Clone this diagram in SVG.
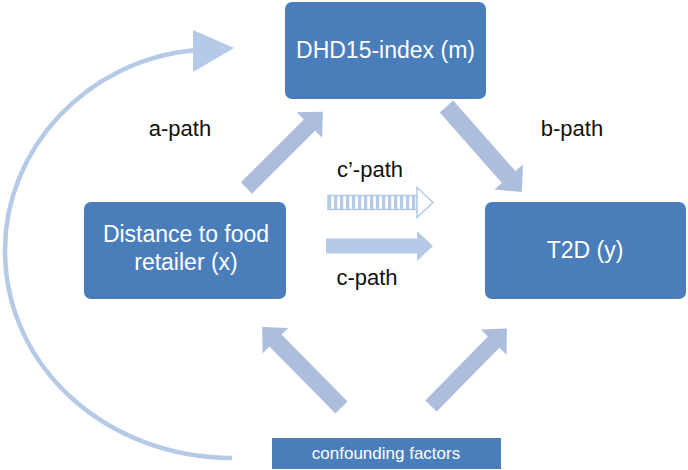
<svg xmlns="http://www.w3.org/2000/svg" width="688" height="470" viewBox="0 0 688 470">
  <defs>
    <style>
      .box { fill: #4a7ebb; }
      .boxtxt { font-family: "Liberation Sans", Arial, sans-serif; font-size: 23px; fill: #ffffff; text-anchor: middle; }
      .lbl { font-family: "Liberation Sans", Arial, sans-serif; font-size: 22px; fill: #111111; text-anchor: middle; }
      .blk { fill: #adbedc; }
      .lite { fill: #b5cae6; }
    </style>
    <pattern id="stripes" patternUnits="userSpaceOnUse" x="328" y="0" width="6" height="10">
      <rect x="0" y="0" width="6" height="10" fill="#ffffff"/>
      <rect x="0" y="0" width="3.2" height="10" fill="#b5cae6"/>
    </pattern>
  </defs>
  <rect width="688" height="470" fill="#ffffff"/>

  <g id="connectors">
    <!-- a-path -->
    <polygon class="blk" transform="translate(246.5,188) rotate(-45)" points="0,-8 89,-8 89,-18 108,0 89,18 89,8 0,8"/>
    <!-- b-path -->
    <polygon class="blk" transform="translate(446.5,106.5) rotate(48.6)" points="0,-9 94,-9 94,-19 114,0 94,19 94,9 0,9"/>
    <!-- confounders to x -->
    <polygon class="blk" transform="translate(341.5,407.5) rotate(-134.6)" points="0,-8.5 94,-8.5 94,-18 113,0 94,18 94,8.5 0,8.5"/>
    <!-- confounders to y -->
    <polygon class="blk" transform="translate(431,406) rotate(-45.6)" points="0,-8 89.5,-8 89.5,-18 108.5,0 89.5,18 89.5,8 0,8"/>
    <!-- c'-path striped -->
    <rect x="328" y="195.5" width="89" height="14" fill="url(#stripes)" stroke="#b5cae6" stroke-width="1.5"/>
    <polygon points="417,187.5 433,202.5 417,217.5" fill="#ffffff" stroke="#b5cae6" stroke-width="1.5"/>
    <!-- c-path -->
    <polygon class="lite" points="326,238.5 417,238.5 417,231 433,246 417,261 417,253.5 326,253.5"/>
    <!-- curved confounders to m -->
    <path d="M 232 458 C 110 458 5 370 5 250 C 5 150 85 60 196 50" fill="none" stroke="#b5cae6" stroke-width="4.5"/>
    <polygon class="lite" points="193,30 234,48 193,72"/>
  </g>

  <g id="label-a">
    <text class="lbl" x="180" y="136">a-path</text>
  </g>
  <g id="label-b">
    <text class="lbl" x="572" y="136">b-path</text>
  </g>
  <g id="label-cprime">
    <text class="lbl" x="370" y="177">c’-path</text>
  </g>
  <g id="label-c">
    <text class="lbl" x="367" y="285">c-path</text>
  </g>

  <g id="node-m">
    <rect class="box" x="285" y="2" width="201" height="97" rx="7"/>
    <text class="boxtxt" x="385.5" y="58">DHD15-index (m)</text>
  </g>
  <g id="node-x">
    <rect class="box" x="84" y="202" width="202" height="97" rx="7"/>
    <text class="boxtxt" x="186" y="242">Distance to food</text>
    <text class="boxtxt" x="186" y="270">retailer (x)</text>
  </g>
  <g id="node-y">
    <rect class="box" x="485" y="202" width="201" height="97" rx="7"/>
    <text class="boxtxt" x="585" y="258">T2D (y)</text>
  </g>
  <g id="node-confounders">
    <rect class="box" x="272" y="438" width="229" height="31"/>
    <text class="boxtxt" x="386" y="459" style="font-size:17px">confounding factors</text>
  </g>
</svg>
